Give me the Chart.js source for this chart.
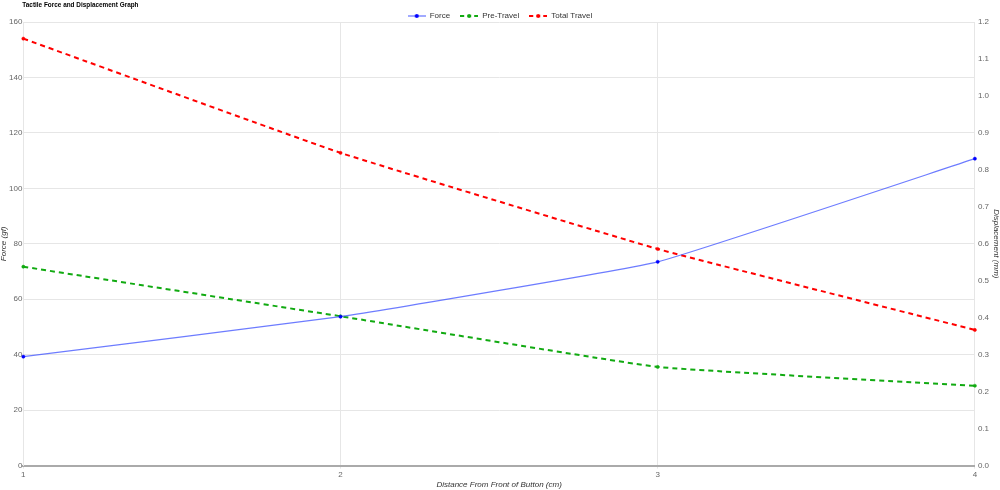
<!DOCTYPE html>
<html>
<head>
<meta charset="utf-8">
<title>Tactile Force and Displacement Graph</title>
<script src="https://cdn.jsdelivr.net/npm/chart.js@4.4.1/dist/chart.umd.min.js"></script>
<style>
    html, body { margin: 0; padding: 0; background: #fff; }
    #wrap { width: 1000px; height: 490px; position: relative; }
</style>
</head>
<body>
<div id="wrap"><canvas id="forceChart"></canvas></div>
<script>
// Werte
const distances = ['1', '2', '3', '4'];
const forceValues = [39.3, 53.7, 73.5, 110.7];
const preTravelValues = [0.538, 0.404, 0.267, 0.216];
const totalTravelValues = [1.155, 0.846, 0.586, 0.367];

const forceTicks = [0, 20, 40, 60, 80, 100, 120, 140, 160];
const displacementTicks = [0, 0.1, 0.2, 0.3, 0.4, 0.5, 0.6, 0.7, 0.8, 0.9, 1.0, 1.1, 1.2];

const FONT = '"Liberation Sans", Arial, sans-serif';
Chart.defaults.font.family = FONT;
Chart.defaults.font.size = 8;
Chart.defaults.color = '#666';

// kleines Legendensymbol: Linie mit Punkt
function legendIcon(lineColor, dotColor, dash) {
    const c = document.createElement('canvas');
    c.width = 18;
    c.height = 6;
    const ctx = c.getContext('2d');
    ctx.strokeStyle = lineColor;
    ctx.lineWidth = dash ? 2 : 1.3;
    ctx.setLineDash(dash || []);
    ctx.beginPath();
    ctx.moveTo(0, 3);
    ctx.lineTo(18, 3);
    ctx.stroke();
    ctx.fillStyle = dotColor;
    ctx.beginPath();
    ctx.arc(9, 3, 2, 0, Math.PI * 2);
    ctx.fill();
    return c;
}

const icons = [
    legendIcon('rgba(60,80,255,0.75)', '#0000ff', null),
    legendIcon('#11aa11', '#11aa11', [4, 3]),
    legendIcon('#ff0000', '#ff0000', [4, 3])
];

// Titel links oben, Legende etwas flacher
const titlePlugin = {
    id: 'leftTitle',
    afterInit(chart) {
        const legend = chart.legend;
        if (legend) {
            const origFit = legend.fit;
            legend.fit = function () {
                origFit.call(this);
                this.height = 20;
            };
        }
    },
    afterDraw(chart) {
        const ctx = chart.ctx;
        ctx.save();
        ctx.font = 'bold 8px ' + FONT;
        ctx.fillStyle = '#000';
        ctx.textBaseline = 'middle';
        ctx.textAlign = 'left';
        ctx.translate(chart.chartArea.left - 1, 5);
        ctx.scale(0.8, 1);
        ctx.fillText('Tactile Force and Displacement Graph', 0, 0);
        ctx.restore();
    }
};

const ctx = document.getElementById('forceChart').getContext('2d');
new Chart(ctx, {
    type: 'line',
    data: {
        labels: distances,
        datasets: [{
            label: 'Force',
            data: forceValues,
            yAxisID: 'y',
            borderColor: 'rgba(60,80,255,0.75)',
            backgroundColor: '#0000ff',
            pointBackgroundColor: '#0000ff',
            pointBorderColor: '#0000ff',
            borderWidth: 1.2,
            pointRadius: 1.6,
            pointBorderWidth: 0.5,
            tension: 0.1
        }, {
            label: 'Pre-Travel',
            data: preTravelValues,
            yAxisID: 'y1',
            borderColor: '#11aa11',
            backgroundColor: '#11aa11',
            pointBackgroundColor: '#11aa11',
            pointBorderColor: '#11aa11',
            borderWidth: 2,
            borderDash: [5, 4],
            pointRadius: 1.6,
            pointBorderWidth: 0.5,
            tension: 0.1
        }, {
            label: 'Total Travel',
            data: totalTravelValues,
            yAxisID: 'y1',
            borderColor: '#ff0000',
            backgroundColor: '#ff0000',
            pointBackgroundColor: '#ff0000',
            pointBorderColor: '#ff0000',
            borderWidth: 2,
            borderDash: [5, 4],
            pointRadius: 1.6,
            pointBorderWidth: 0.5,
            tension: 0.1
        }]
    },
    options: {
        responsive: true,
        maintainAspectRatio: false,
        animation: false,
        layout: {
            padding: { top: 2, right: 0, left: 0, bottom: 0 }
        },
        scales: {
            x: {
                type: 'category',
                offset: false,
                grid: { color: '#e6e6e6', tickLength: 3 },
                border: { color: '#aaa', width: 2 },
                ticks: { color: '#666', font: { size: 8 }, padding: 1 },
                title: {
                    display: true,
                    text: 'Distance From Front of Button (cm)',
                    color: '#333',
                    font: { size: 8, style: 'italic', lineHeight: 1.1 },
                    padding: { top: 0, bottom: 1 }
                }
            },
            y: {
                position: 'left',
                min: forceTicks[0],
                max: forceTicks[forceTicks.length - 1],
                afterBuildTicks(axis) {
                    axis.ticks = forceTicks.map(v => ({ value: v }));
                },
                grid: { color: '#e6e6e6', drawTicks: false },
                border: { color: '#e6e6e6' },
                ticks: { color: '#666', font: { size: 8 }, padding: 1 },
                title: {
                    display: true,
                    text: 'Force (gf)',
                    color: '#333',
                    font: { size: 8, style: 'italic', lineHeight: 1 },
                    padding: { top: 0, bottom: 0 }
                }
            },
            y1: {
                position: 'right',
                min: displacementTicks[0],
                max: displacementTicks[displacementTicks.length - 1],
                afterBuildTicks(axis) {
                    axis.ticks = displacementTicks.map(v => ({ value: v }));
                },
                grid: { drawOnChartArea: false, drawTicks: false },
                border: { display: false },
                ticks: {
                    color: '#666',
                    font: { size: 8 },
                    padding: 3,
                    callback: v => v.toFixed(1)
                },
                title: {
                    display: true,
                    text: 'Displacement (mm)',
                    color: '#333',
                    font: { size: 8, style: 'italic', lineHeight: 1 },
                    padding: { top: 0, bottom: 0 }
                }
            }
        },
        plugins: {
            title: { display: false },
            tooltip: { enabled: false },
            legend: {
                position: 'top',
                align: 'center',
                labels: {
                    usePointStyle: true,
                    pointStyleWidth: 18,
                    boxHeight: 6,
                    padding: 10,
                    color: '#333',
                    font: { size: 8 },
                    generateLabels(chart) {
                        return chart.data.datasets.map((ds, i) => ({
                            text: ds.label,
                            pointStyle: icons[i],
                            fillStyle: ds.borderColor,
                            strokeStyle: ds.borderColor,
                            lineWidth: 0,
                            fontColor: '#333',
                            hidden: !chart.isDatasetVisible(i),
                            datasetIndex: i
                        }));
                    }
                }
            }
        }
    },
    plugins: [titlePlugin]
});
</script>
</body>
</html>
